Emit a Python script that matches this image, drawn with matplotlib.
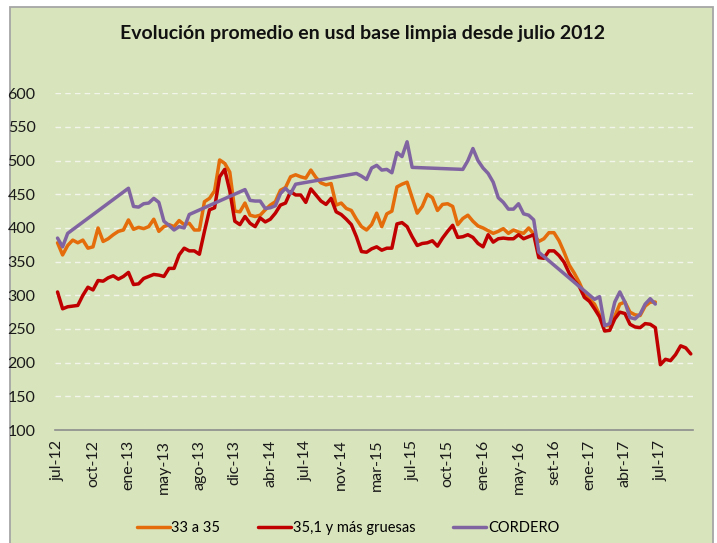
import numpy as np
import matplotlib
matplotlib.use("Agg")
import matplotlib.pyplot as plt
from matplotlib.patches import Rectangle

plt.rcParams['font.family'] = ['Lato', 'DejaVu Sans']

title = "Evolución promedio en usd base limpia desde julio 2012"
tick_labels = ["jul-12", "oct-12", "ene-13", "may-13", "ago-13", "dic-13", "abr-14",
               "jul-14", "nov-14", "mar-15", "jul-15", "oct-15", "ene-16", "may-16",
               "set-16", "ene-17", "abr-17", "jul-17"]
label_step = 7
n_points = 126

s_33_35 = [378, 360, 374, 382, 378, 382, 370, 372, 400, 380, 384, 390, 395, 397, 412, 398,
           401, 399, 402, 413, 395, 402, 405, 402, 411, 405, 407, 397, 397, 439, 444, 455,
           501, 496, 483, 425, 424, 437, 419, 417, 419, 427, 434, 439, 456, 460, 476, 479,
           476, 474, 486, 475, 467, 464, 466, 434, 437, 429, 426, 413, 402, 397, 405, 422,
           402, 421, 425, 461, 465, 468, 445, 422, 432, 450, 445, 426, 435, 436, 432, 405,
           414, 419, 410, 403, 400, 396, 392, 395, 399, 392, 397, 394, 392, 400, 391, 380,
           384, 393, 393, 381, 364, 345, 333, 319, 302, 294, 287, 271, 255, 255, 269, 287,
           290, 275, 271, 270, 284, 290, 290]

s_35_1 = [305, 280, 283, 284, 285, 300, 312, 308, 322, 321, 326, 329, 324, 328, 334, 316,
          317, 325, 328, 331, 330, 328, 340, 340, 360, 370, 366, 366, 361, 395, 427, 430,
          476, 487, 455, 410, 405, 417, 407, 402, 415, 409, 413, 422, 434, 437, 454, 449,
          449, 438, 458, 449, 440, 435, 444, 424, 420, 413, 405, 387, 365, 364, 369, 372,
          367, 370, 370, 406, 408, 402, 387, 374, 377, 378, 381, 373, 385, 395, 404, 386,
          387, 390, 386, 377, 372, 390, 379, 384, 385, 384, 384, 390, 384, 387, 390, 356,
          355, 366, 366, 359, 349, 333, 322, 313, 297, 291, 280, 268, 247, 248, 265, 275,
          273, 257, 253, 252, 258, 257, 252, 197, 205, 203, 212, 225, 222, 213]

N = None
cordero = [385, 372, 392, N, N, N, N, N, N, N, N, N, N, N, 459, 432,
           431, 436, 437, 444, 438, 410, 404, 397, 402, 400, 420, N, N, N, N, N,
           N, N, N, N, N, 457, 441, 440, 440, 429, 430, 433, 451, 459, 451, 465,
           N, N, N, N, N, N, N, N, N, N, N, 481, 477, 472, 489, 493,
           486, 487, 482, 512, 506, 528, 490, N, N, N, N, N, N, N, N, N,
           487, 500, 518, 500, 489, 481, 468, 445, 438, 428, 428, 436, 421, 419, 412, 364,
           N, N, N, N, N, N, N, N, N, N, 294, 298, 255, 258, 290, 305,
           290, 267, 265, 272, 287, 295, 287]

series = [("33 a 35", s_33_35, "#E46C0A"),
          ("35,1 y más gruesas", s_35_1, "#C00000"),
          ("CORDERO", cordero, "#8064A2")]

W, H = 717, 543
fig = plt.figure(figsize=(W / 100, H / 100), dpi=100, facecolor="white")
bg = "#D8E4BC"
fig.patches.append(Rectangle((9.5 / W, -0.05), (712.5 - 9.5) / W, 1.05 - 7.5 / H,
                             transform=fig.transFigure, facecolor=bg,
                             edgecolor="#A6A6A6", linewidth=1.3, zorder=-1))

left, right, top, bottom = 55 / W, 693.3 / W, 1 - 93.3 / H, 1 - 430 / H
ax = fig.add_axes([left, bottom, right - left, top - bottom])
ax.set_facecolor("none")

for name, vals, col in series:
    y = np.array([np.nan if v is None else v for v in vals], dtype=float)
    x = np.arange(len(y))
    m = ~np.isnan(y)
    ax.plot(x[m], y[m], color=col, lw=2.5, solid_joinstyle="round",
            solid_capstyle="round", label=name, zorder=3)

ax.set_xlim(-0.5, n_points - 0.5)
ax.set_ylim(100, 600)
ax.set_yticks(np.arange(100, 601, 50))
ax.set_xticks(np.arange(len(tick_labels)) * label_step)
ax.set_xticklabels(tick_labels, rotation=90, fontsize=11.5, color="#1a1a1a")
ax.tick_params(axis="y", labelsize=11.5, length=0, pad=14, colors="#1a1a1a")
ax.tick_params(axis="x", length=0, pad=7)
ax.yaxis.grid(True, color="#F2F5EA", linestyle=(0, (4, 3)), linewidth=1.0, zorder=1)
ax.set_axisbelow(True)
for s in ["top", "right", "left"]:
    ax.spines[s].set_visible(False)
ax.spines["bottom"].set_color("#8C8C8C")
ax.spines["bottom"].set_linewidth(1.2)

fig.text(362 / W, 1 - 33 / H, title, ha="center", va="center",
         fontsize=14, fontweight="bold", color="#111111")

handles, labels = ax.get_legend_handles_labels()
fig.legend(handles, labels, loc="center", bbox_to_anchor=(348 / W, 1 - 528 / H),
           ncol=3, frameon=False, fontsize=10.5, handlelength=2.25, handletextpad=0.12,
           columnspacing=2.6)

fig.savefig("out.png", dpi=100, facecolor="white")
